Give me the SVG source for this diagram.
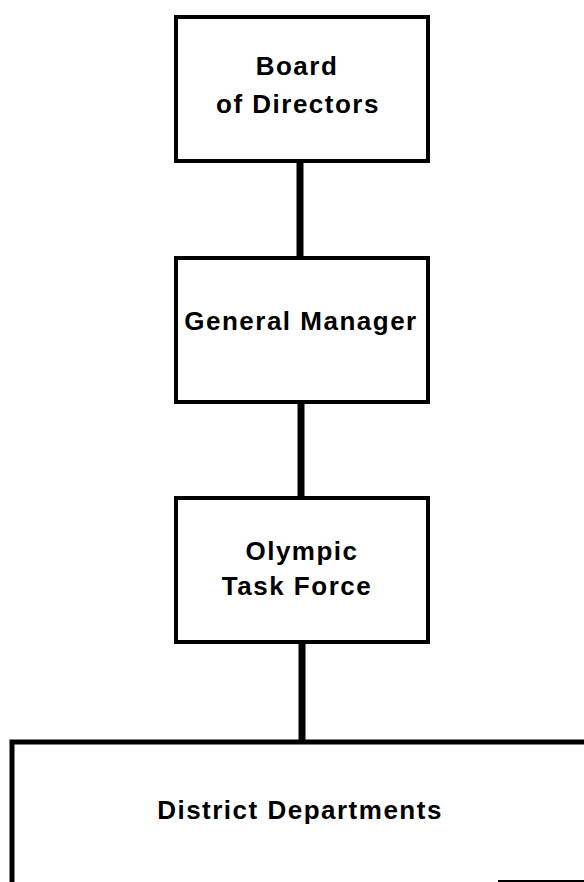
<svg xmlns="http://www.w3.org/2000/svg" width="584" height="882" viewBox="0 0 584 882">
<style>
.box{fill:#fff;stroke:#000;stroke-width:4}
.conn{stroke:#000;stroke-width:7;fill:none}
.t{font-family:"Liberation Sans",Arial,Helvetica,sans-serif;font-weight:bold;font-size:26px;letter-spacing:1.5px;fill:#000;text-anchor:middle}
</style>
<rect width="584" height="882" fill="#fff"/>
<g id="connectors">
<line class="conn" x1="300" y1="161" x2="300" y2="258"/>
<line class="conn" x1="301" y1="402" x2="301" y2="498"/>
<line class="conn" x1="302" y1="642" x2="302" y2="742"/>
</g>
<g id="board">
<rect class="box" x="176" y="17" width="252" height="144"/>
<text class="t" x="297" y="75">Board</text>
<text class="t" x="298" y="113">of Directors</text>
</g>
<g id="general-manager">
<rect class="box" x="176" y="258" width="252" height="144"/>
<text class="t" x="301" y="330">General Manager</text>
</g>
<g id="olympic-task-force">
<rect class="box" x="176" y="498" width="252" height="144"/>
<text class="t" x="302" y="560">Olympic</text>
<text class="t" x="297" y="595">Task Force</text>
</g>
<g id="district-departments">
<path d="M12 890 V742 H600" fill="none" stroke="#000" stroke-width="5"/>
<line x1="498" y1="881" x2="584" y2="881" stroke="#000" stroke-width="2"/>
<text class="t" x="300" y="819">District Departments</text>
</g>
</svg>
